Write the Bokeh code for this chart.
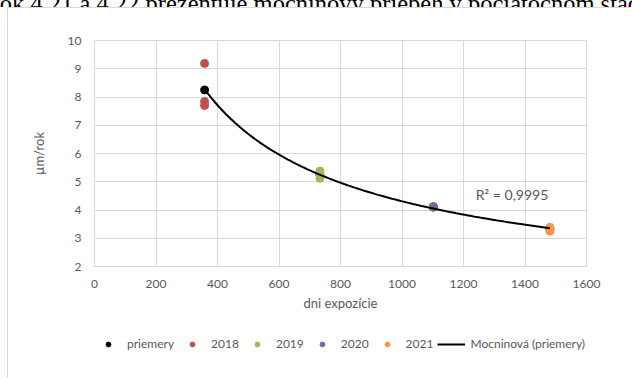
import numpy as np
from bokeh.plotting import figure
from bokeh.models import Legend, LegendItem, Label, FixedTicker, Div
from bokeh.layouts import column
from bokeh.embed import file_html
from bokeh.resources import INLINE

# ---- data ----
days_2018 = [358, 358, 358]
vals_2018 = [9.19, 7.84, 7.70]
days_2019 = [733, 733, 733]
vals_2019 = [5.38, 5.25, 5.12]
days_2020 = [1102, 1102, 1102]
vals_2020 = [4.12, 4.11, 4.10]
days_2021 = [1481, 1481, 1481]
vals_2021 = [3.39, 3.32, 3.25]
days_avg = [358, 733, 1102, 1481]
vals_avg = [8.25, 5.25, 4.11, 3.32]
r2_text = "R\u00b2 = 0,9995"
x_ticks = [0, 200, 400, 600, 800, 1000, 1200, 1400, 1600]
y_ticks = [2, 3, 4, 5, 6, 7, 8, 9, 10]
series_names = ["priemery", "2018", "2019", "2020", "2021"]
series_colors = ["#000000", "#c0504d", "#9bbb59", "#8064a2", "#f79646"]
fit_name = "Mocninová (priemery)"
doc_text = "Obrázok 4.21 a 4.22 prezentuje mocninový priebeh v počiatočnom štádiu korózie"

FONT = "Lato"
GRAY = "#595959"
GRID = "#d9d9d9"

header = Div(
    text=('<div style="font-family:\'Liberation Serif\';font-size:24.5px;'
          'line-height:24px;white-space:nowrap;margin-top:-16px;margin-left:-60px;'
          'color:#000">' + doc_text + '</div>'),
    width=632, height=7, margin=0, styles={"overflow": "hidden"})

p = figure(output_backend="svg", toolbar_location=None,
           width=623, height=307,
           min_border_left=86, min_border_top=32, min_border_right=45,
           min_border_bottom=49,
           x_range=(0, 1600), y_range=(2, 10),
           background_fill_color="white", border_fill_color="white",
           outline_line_color=GRID, margin=0)
p.styles = {"margin-left": "7px", "border-top": "1px solid #d9d9d9",
            "border-left": "1px solid #d9d9d9"}

p.xaxis.ticker = FixedTicker(ticks=x_ticks)
p.yaxis.ticker = FixedTicker(ticks=y_ticks)
for ax in (p.xaxis[0], p.yaxis[0]):
    ax.axis_line_color = GRID
    ax.major_tick_line_color = None
    ax.minor_tick_line_color = None
    ax.major_label_text_font = FONT
    ax.major_label_text_font_size = "12px"
    ax.major_label_text_color = GRAY
    ax.axis_label_text_font = FONT
    ax.axis_label_text_font_size = "13px"
    ax.axis_label_text_color = GRAY
    ax.axis_label_text_font_style = "normal"
    ax.major_label_standoff = 7
p.xaxis.axis_label = "dni expozície"
p.yaxis.axis_label = "µm/rok"
p.xaxis.axis_label_standoff = 4
p.yaxis.axis_label_standoff = 18

p.xgrid.grid_line_color = GRID
p.ygrid.grid_line_color = GRID

series_x = [days_avg, days_2018, days_2019, days_2020, days_2021]
series_y = [vals_avg, vals_2018, vals_2019, vals_2020, vals_2021]
for sx, sy, c in zip(series_x, series_y, series_colors):
    p.scatter(sx, sy, size=8, color=c)

# power trendline fitted to the averages
b, ln_a = np.polyfit(np.log(days_avg), np.log(vals_avg), 1)
xs = np.linspace(min(days_avg), max(days_avg), 200)
ys = np.exp(ln_a) * xs ** b
p.line(xs, ys, line_color="black", line_width=2)

p.add_layout(Label(x=1240, y=4.56, text=r2_text, text_font=FONT,
                   text_font_size="14px", text_color=GRAY,
                   text_baseline="middle", text_align="left"))

# ---- legend strip: a small figure whose view excludes the data, holding the legend ----
lg = figure(output_backend="svg", toolbar_location=None,
            width=623, height=64, min_border=0,
            x_range=(0, 1600), y_range=(20, 21),
            x_axis_location=None, y_axis_location=None,
            outline_line_color=None, margin=0)
lg.grid.visible = False
lg.styles = {"margin-left": "7px", "border-left": "1px solid #d9d9d9"}
items = []
for name, sx, sy, c in zip(series_names, series_x, series_y, series_colors):
    r = lg.scatter(sx, sy, size=8, color=c)
    items.append(LegendItem(label=name, renderers=[r]))
rl = lg.line(xs, ys, line_color="black", line_width=2)
items.append(LegendItem(label=fit_name, renderers=[rl]))

legend = Legend(items=items, orientation="horizontal", location=(0, 27),
                label_text_font=FONT, label_text_font_size="12px",
                label_text_color=GRAY, glyph_width=28, glyph_height=12,
                label_standoff=5, spacing=4, padding=0, margin=0,
                border_line_color=None, background_fill_alpha=0)
lg.add_layout(legend, "center")

layout = column(header, p, lg, spacing=0)
open("out.html", "w").write(file_html(layout, INLINE))
